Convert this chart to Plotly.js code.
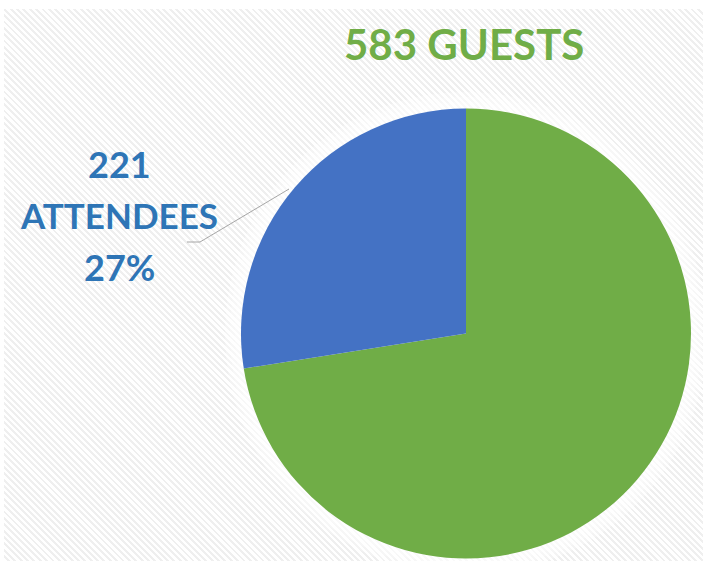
<!DOCTYPE html>
<html>
<head>
<meta charset="utf-8">
<script src="https://cdn.plot.ly/plotly-3.0.1.min.js"></script>
<style>
  html, body { margin: 0; padding: 0; background: #ffffff; }
  #wrap { position: relative; width: 703px; height: 561px; background: #ffffff; }
  #hatch { position: absolute; left: 4px; top: 9px; right: 0; bottom: 0;
    background: repeating-linear-gradient(45deg, #ffffff 0px, #ffffff 2.5px, #efefef 2.5px, #efefef 4.5px); }
  #chart { position: absolute; left: 0; top: 0; width: 703px; height: 561px; }
</style>
</head>
<body>
<div id="wrap">
  <div id="hatch"></div>
  <div id="chart"></div>
</div>
<script>
const labels = ['GUESTS', 'ATTENDEES'];
const values = [583, 221];
const colors = ['#70ad47', '#4472c4'];
const textColors = ['#70ad47', '#2e75b6'];

const total = values.reduce((a, b) => a + b, 0);
const pctAttend = Math.round(values[1] / total * 100);

const W = 703, H = 561;
const px = x => x / W;
const py = y => 1 - y / H;

const trace = {
  type: 'pie',
  labels: labels,
  values: values,
  sort: false,
  direction: 'clockwise',
  rotation: 0,
  marker: { colors: colors, line: { width: 0 } },
  textinfo: 'none',
  hoverinfo: 'label+value+percent',
  domain: { x: [px(241), px(691)], y: [py(559), py(108)] },
  showlegend: false
};

const blueFont = { family: 'Lato, "Open Sans", sans-serif', size: 35, color: textColors[1] };
const annotations = [
  { text: '<b>' + values[0] + ' ' + labels[0] + '</b>', x: px(464), y: py(44), xref: 'paper', yref: 'paper',
    showarrow: false, xanchor: 'center', yanchor: 'middle',
    font: { family: 'Lato, "Open Sans", sans-serif', size: 42, color: textColors[0] } },
  { text: '<b>' + values[1] + '</b>', x: px(120), y: py(164), xref: 'paper', yref: 'paper',
    showarrow: false, xanchor: 'center', yanchor: 'middle', font: { ...blueFont, size: 36 } },
  { text: '<b>' + labels[1] + '</b>', x: px(119), y: py(215), xref: 'paper', yref: 'paper',
    showarrow: false, xanchor: 'center', yanchor: 'middle', font: blueFont },
  { text: '<b>' + pctAttend + '%</b>', x: px(120), y: py(267), xref: 'paper', yref: 'paper',
    showarrow: false, xanchor: 'center', yanchor: 'middle', font: { ...blueFont, size: 36 } }
];

const shapes = [];
// soft glow around the pie
[16, 11, 6].forEach(d => {
  shapes.push({ type: 'circle', xref: 'paper', yref: 'paper', layer: 'below',
    x0: px(241 - d), x1: px(691 + d), y0: py(559 + d), y1: py(108 - d),
    fillcolor: 'rgba(255,255,255,0.3)', line: { width: 0 } });
});
shapes.push({ type: 'path', xref: 'paper', yref: 'paper', layer: 'above',
  path: 'M ' + px(187) + ' ' + py(242) + ' L ' + px(200) + ' ' + py(242) + ' L ' + px(289) + ' ' + py(189),
  line: { color: '#a6a6a6', width: 1 } });

const layout = {
  width: W, height: H,
  margin: { l: 0, r: 0, t: 0, b: 0 },
  paper_bgcolor: 'rgba(0,0,0,0)',
  plot_bgcolor: 'rgba(0,0,0,0)',
  annotations: annotations,
  shapes: shapes,
  showlegend: false
};

Plotly.newPlot('chart', [trace], layout, { displayModeBar: false, staticPlot: true });
</script>
</body>
</html>
